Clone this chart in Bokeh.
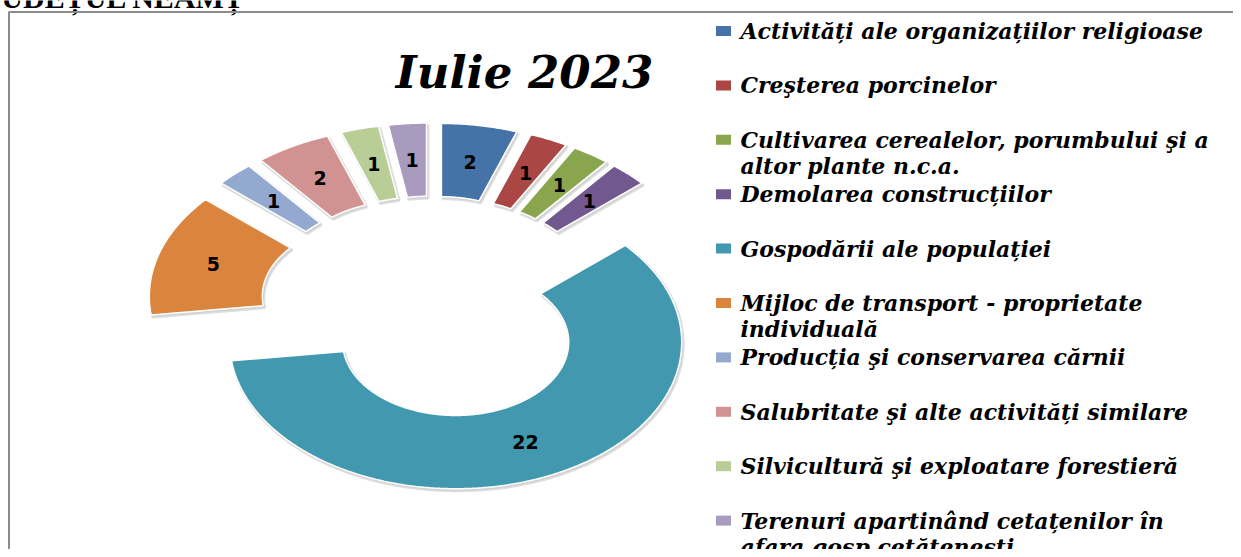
import numpy as np
from bokeh.plotting import figure
from bokeh.models import Range1d
from bokeh.core.properties import value
from bokeh.embed import file_html
from bokeh.resources import INLINE

# ---------------- data ----------------
categories = [
    "Activități ale organizațiilor religioase",
    "Creşterea porcinelor",
    "Cultivarea cerealelor, porumbului şi a\naltor plante n.c.a.",
    "Demolarea construcțiilor",
    "Gospodării ale populației",
    "Mijloc de transport - proprietate\nindividuală",
    "Producția şi conservarea cărnii",
    "Salubritate şi alte activități similare",
    "Silvicultură şi exploatare forestieră",
    "Terenuri apartinând cetațenilor în\nafara gosp.cetătenesti",
]
values = [2, 1, 1, 1, 22, 5, 1, 2, 1, 1]
colors = ["#4572A7", "#AA4643", "#89A54E", "#71588F", "#4198AF",
          "#DB843D", "#93A9CF", "#D19392", "#B9CD96", "#A99BBD"]
title_text = "Iulie 2023"
header_text = "JUDEȚUL NEAMȚ"

# ---------------- layout ----------------
W, H = 1233, 549
CX, CY = 431, 307          # donut centre (px)
RX, RY = 226, 146.5        # outer radii (px), stretched ellipse
HOLE = 0.5
EXPLODE = 0.26
LABEL_R = 0.75

p = figure(width=W, height=H, x_range=Range1d(0, W), y_range=Range1d(H, 0),
           output_backend="svg", toolbar_location=None, min_border=0)
p.axis.visible = False
p.grid.visible = False
p.outline_line_color = None
p.background_fill_color = "white"
p.border_fill_color = "white"

vals = np.array(values, dtype=float)
frac = vals / vals.sum() * 360.0
ends = np.cumsum(frac)
starts = ends - frac
mids = (starts + ends) / 2

xs, ys, sx, sy, lx, ly = [], [], [], [], [], []
for a0, a1, am in zip(starts, ends, mids):
    r = np.radians(am)
    ox = CX + EXPLODE * RX * np.sin(r)
    oy = CY - EXPLODE * RY * np.cos(r)
    t = np.radians(np.linspace(a0, a1, max(10, int((a1 - a0) * 2))))
    px = np.concatenate([ox + RX * np.sin(t), ox + RX * HOLE * np.sin(t[::-1])])
    py = np.concatenate([oy - RY * np.cos(t), oy - RY * HOLE * np.cos(t[::-1])])
    xs.append(px); ys.append(py)
    sx.append(px + 1.5); sy.append(py + 2)
    lx.append(ox + LABEL_R * RX * np.sin(r))
    ly.append(oy - LABEL_R * RY * np.cos(r))

# shadow
p.patches(sx, sy, fill_color="#bdbdbd", fill_alpha=0.45,
          line_color="#c8c8c8", line_alpha=0.6, line_width=3)
# slices
p.patches(xs, ys, fill_color=colors, line_color="white", line_width=1.5)
# value labels
p.text(lx, ly, text=[str(v) for v in values], text_align="center",
       text_baseline="middle", text_font=value("DejaVu Sans"),
       text_font_style="bold", text_font_size="19px", text_color="black")

# header (cut off at the top edge, as in the source)
p.text([245], [-3.5], text=[header_text], text_align="right",
       text_baseline="alphabetic", text_font=value("Liberation Serif"),
       text_font_style="bold", text_font_size="30px", text_color="black")

# title
p.text([524], [72], text=[title_text], text_align="center", text_baseline="middle",
       text_font=value("DejaVu Serif"), text_font_style="bold italic",
       text_font_size="45px", text_color="black")

# legend
LEG_MX, LEG_TX = 723, 740
LEG_Y0, LEG_DY, LINE_DY = 30.5, 54.4, 26
mk_y = [LEG_Y0 + i * LEG_DY for i in range(len(categories))]
p.rect([LEG_MX] * len(categories), mk_y, width=15, height=10,
       fill_color=colors, line_color=None)
tx, ty, tt = [], [], []
for i, lab in enumerate(categories):
    for j, line in enumerate(lab.split("\n")):
        tx.append(LEG_TX); ty.append(mk_y[i] + j * LINE_DY); tt.append(line)
p.text(tx, ty, text=tt, text_align="left", text_baseline="middle",
       text_font=value("DejaVu Serif"), text_font_style="bold italic",
       text_font_size="22px", text_color="black")

# frame
p.line([8.5, 8.5, W], [H, 11.5, 11.5], line_color="#8c8c8c", line_width=2)

open("out.html", "w").write(file_html(p, INLINE))
